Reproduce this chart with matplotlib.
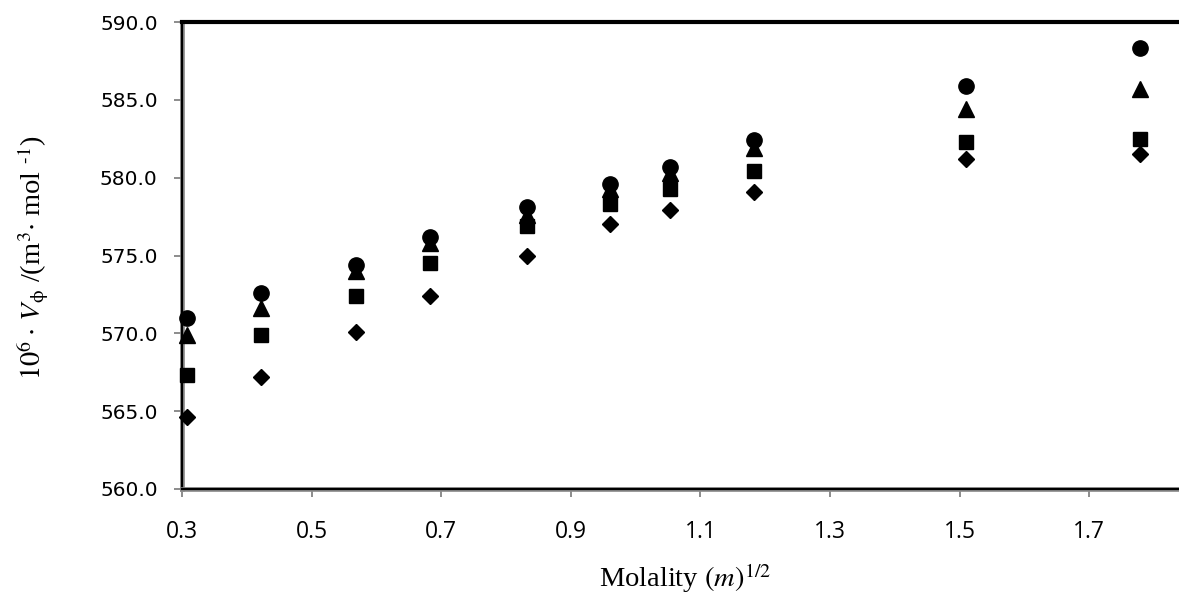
import matplotlib
matplotlib.use("Agg")
import matplotlib.pyplot as plt
import matplotlib.patheffects as pe
from matplotlib.ticker import FixedLocator, FormatStrFormatter

# Square root of molality
sqrt_m = [0.308, 0.422, 0.569, 0.683, 0.832, 0.960, 1.053, 1.183, 1.510, 1.778]

# Apparent molar volumes, 10^6 * V_phi / (m^3 mol^-1)
v_circle = [571.0, 572.6, 574.4, 576.2, 578.1, 579.6, 580.7, 582.4, 585.9, 588.3]
v_triangle = [569.9, 571.6, 574.0, 575.8, 577.6, 579.3, 580.3, 581.9, 584.4, 585.7]
v_square = [567.3, 569.9, 572.4, 574.5, 576.9, 578.3, 579.3, 580.4, 582.3, 582.5]
v_diamond = [564.6, 567.2, 570.1, 572.4, 575.0, 577.0, 577.9, 579.1, 581.2, 581.5]

x_ticks = [0.3, 0.5, 0.7, 0.9, 1.1, 1.3, 1.5, 1.7]
y_ticks = [560.0, 565.0, 570.0, 575.0, 580.0, 585.0, 590.0]

plt.rcParams["mathtext.fontset"] = "stix"

W, H = 1179, 604
fig = plt.figure(figsize=(W / 100, H / 100), dpi=100)
ax = fig.add_axes([182 / W, 1 - 489 / H, 1 - 182 / W, (489 - 22) / H])

marker_kw = dict(linestyle="none", color="black", clip_on=False, zorder=4)
ax.plot(sqrt_m, v_diamond, marker="D", markersize=7.8, **marker_kw)
ax.plot(sqrt_m, v_square, marker="s", markersize=10.6, **marker_kw)
ax.plot(sqrt_m, v_triangle, marker="^", markersize=11, **marker_kw)
ax.plot(sqrt_m, v_circle, marker="o", markersize=11, **marker_kw)

ax.set_xlim(0.3, 1.8386)
ax.set_ylim(560.0, 590.0)
ax.xaxis.set_major_locator(FixedLocator(x_ticks))
ax.yaxis.set_major_locator(FixedLocator(y_ticks))
ax.xaxis.set_major_formatter(FormatStrFormatter("%.1f"))
ax.yaxis.set_major_formatter(FormatStrFormatter("%.1f"))

ax.tick_params(axis="both", direction="out", length=5.5, width=1.4, color="#8c8c8c")
ax.tick_params(axis="x", pad=17)
ax.tick_params(axis="y", pad=12)
for lab in ax.get_xticklabels():
    lab.set_fontfamily("Open Sans")
    lab.set_fontsize(16.5)
for lab in ax.get_yticklabels():
    lab.set_fontfamily("DejaVu Sans")
    lab.set_fontsize(14.5)

# Plot frame: heavy black top edge, grey-edged black left and bottom axes
ax.spines["right"].set_visible(False)
ax.spines["top"].set_color("black")
ax.spines["top"].set_linewidth(3)
for side in ("left", "bottom"):
    ax.spines[side].set_color("black")
    ax.spines[side].set_linewidth(1.6)
    ax.spines[side].set_path_effects([pe.Stroke(linewidth=3.4, foreground="#8c8c8c"), pe.Normal()])

fig.text(685 / W, 1 - 587 / H, r"Molality $(m)^{1/2}$", family="Liberation Serif",
         fontsize=20.5, ha="center", va="baseline")
fig.text(34 / W, 1 - 258 / H, r"$10^6\cdot\,V_{\mathrm{ϕ}}$ /(m$^3$$\cdot$ mol $^{\text{-}1}$)",
         family="Liberation Serif", fontsize=20.5, rotation=90, ha="center", va="center")

fig.savefig("out.png", dpi=100)
